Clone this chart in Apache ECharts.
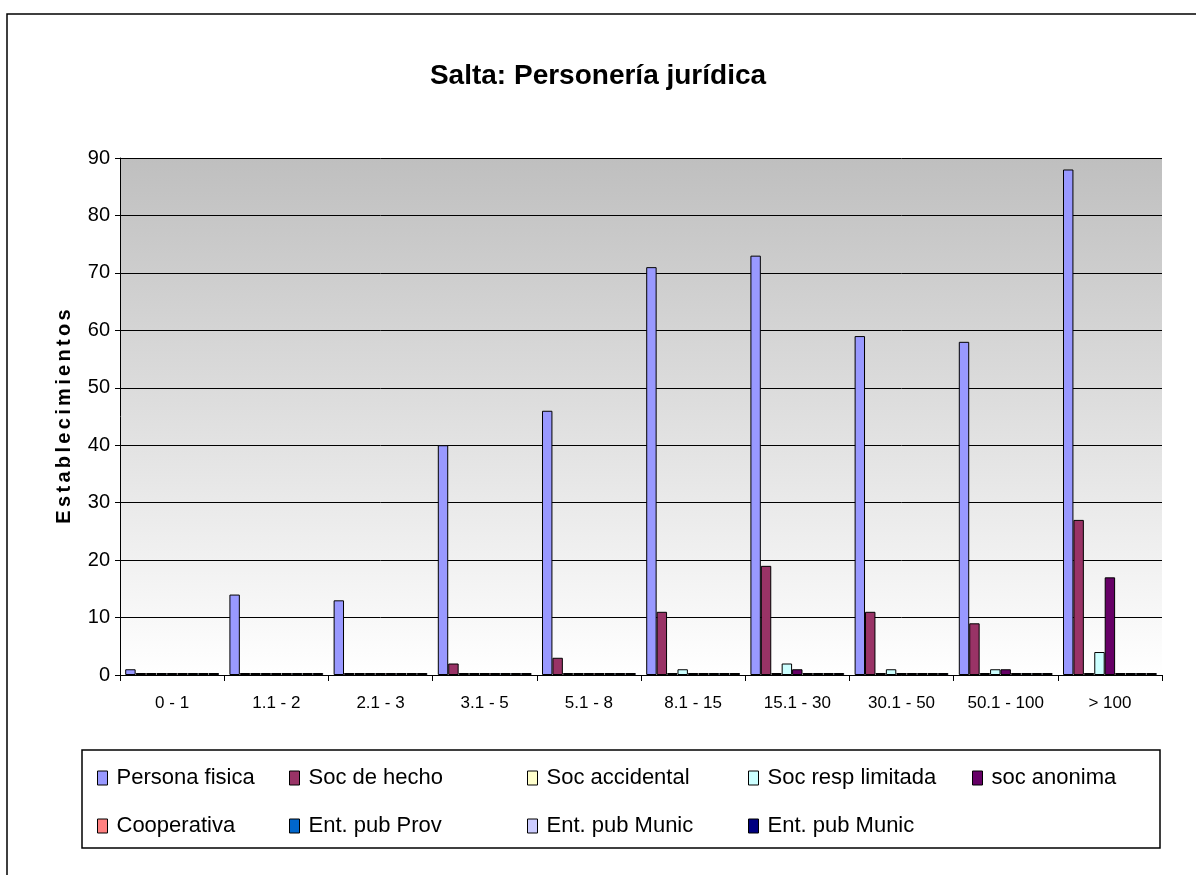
<!DOCTYPE html>
<html>
<head>
<meta charset="utf-8">
<script src="https://cdn.jsdelivr.net/npm/echarts@6/dist/echarts.min.js"></script>
<style>
  html, body { margin: 0; padding: 0; background: #fff; }
  #chart { width: 1196px; height: 875px; }
</style>
</head>
<body>
<div id="chart"></div>
<script>
const categories = ['0 - 1', '1.1 - 2', '2.1 - 3', '3.1 - 5', '5.1 - 8', '8.1 - 15', '15.1 - 30', '30.1 - 50', '50.1 - 100', '> 100'];
const seriesNames = ['Persona fisica', 'Soc de hecho', 'Soc accidental', 'Soc resp limitada', 'soc anonima',
  'Cooperativa', 'Ent. pub Prov', 'Ent. pub Munic', 'Ent. pub Munic '];
const personaFisica = [1, 14, 13, 40, 46, 71, 73, 59, 58, 88];
const socDeHecho = [0, 0, 0, 2, 3, 11, 19, 11, 9, 27];
const socAccidental = [0, 0, 0, 0, 0, 0, 0, 0, 0, 0];
const socRespLimitada = [0, 0, 0, 0, 0, 1, 2, 1, 1, 4];
const socAnonima = [0, 0, 0, 0, 0, 0, 1, 0, 1, 17];
const cooperativa = [0, 0, 0, 0, 0, 0, 0, 0, 0, 0];
const entPubProv = [0, 0, 0, 0, 0, 0, 0, 0, 0, 0];
const entPubMunic = [0, 0, 0, 0, 0, 0, 0, 0, 0, 0];
const entPubMunic2 = [0, 0, 0, 0, 0, 0, 0, 0, 0, 0];
const seriesData = [personaFisica, socDeHecho, socAccidental, socRespLimitada, socAnonima,
  cooperativa, entPubProv, entPubMunic, entPubMunic2];
const colors = ['#9999FF', '#993366', '#FFFFCC', '#CCFFFF', '#660066', '#FF8080', '#0066CC', '#CCCCFF', '#000080'];

// legend positions (column x, row y)
const legendPos = [[92, 762], [284, 762], [522, 762], [743, 762], [967, 762],
  [92, 810], [284, 810], [522, 810], [743, 810]];

const chart = echarts.init(document.getElementById('chart'));
const option = {
  animation: false,
  textStyle: { fontFamily: 'Liberation Sans, Arial, sans-serif' },
  title: {
    text: 'Salta: Personería jurídica',
    left: 'center',
    top: 57,
    textStyle: { fontSize: 28, fontWeight: 'bold', color: '#000' }
  },
  graphic: [
    { type: 'rect', shape: { x: 7, y: 14, width: 1250, height: 900 }, style: { fill: 'none', stroke: '#000', lineWidth: 1.5 }, silent: true },
    { type: 'rect', shape: { x: 82, y: 750, width: 1078, height: 98 }, style: { fill: 'none', stroke: '#000', lineWidth: 1.5 }, silent: true }
  ],
  legend: seriesNames.map((n, i) => ({
    data: [n],
    left: legendPos[i][0],
    top: legendPos[i][1],
    icon: 'rect',
    itemWidth: 10,
    itemHeight: 14,
    itemGap: 6,
    selectedMode: false,
    itemStyle: { borderColor: '#000', borderWidth: 1 },
    textStyle: { fontSize: 22, color: '#000', padding: [0, 0, 0, 4] }
  })),
  grid: {
    left: 120,
    right: 34,
    top: 158,
    bottom: 200,
    show: true,
    borderWidth: 0,
    backgroundColor: new echarts.graphic.LinearGradient(0, 0, 0, 1, [
      { offset: 0, color: '#bfbfbf' },
      { offset: 1, color: '#ffffff' }
    ])
  },
  xAxis: {
    type: 'category',
    data: categories,
    axisLine: { lineStyle: { color: '#000', width: 1 } },
    axisTick: { show: true, length: 6, lineStyle: { color: '#000' } },
    axisLabel: { fontSize: 17, color: '#000', margin: 20 }
  },
  yAxis: {
    type: 'value',
    min: 0,
    max: 90,
    interval: 10,
    name: 'E\u2006s\u2006t\u2006a\u2006b\u2006l\u2006e\u2006c\u2006i\u2006m\u2006i\u2006e\u2006n\u2006t\u2006o\u2006s',
    nameLocation: 'middle',
    nameGap: 46,
    nameTextStyle: { fontSize: 20, fontWeight: 'bold', color: '#000' },
    axisLine: { show: true, lineStyle: { color: '#000' } },
    axisTick: { show: true, length: 5, lineStyle: { color: '#000' } },
    axisLabel: { fontSize: 20, color: '#000', margin: 10 },
    splitLine: { show: true, lineStyle: { color: '#000', width: 1 } }
  },
  series: seriesNames.map((n, i) => ({
    name: n,
    type: 'bar',
    data: seriesData[i],
    barGap: '0%',
    barCategoryGap: '10%',
    barMinHeight: 2,
    itemStyle: { color: colors[i], borderColor: '#000', borderWidth: 1 }
  }))
};
chart.setOption(option);
</script>
</body>
</html>
